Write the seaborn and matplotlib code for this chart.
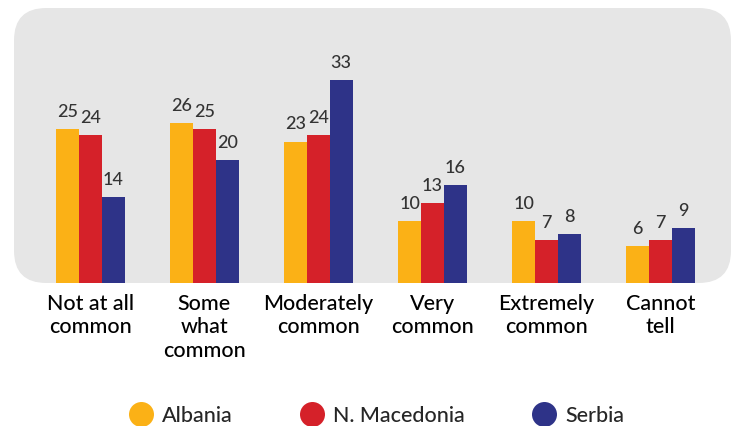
import matplotlib
matplotlib.use("Agg")
import matplotlib.pyplot as plt
import seaborn as sns
import pandas as pd
from matplotlib.patches import FancyBboxPatch
from matplotlib.lines import Line2D

categories = ["Not at all\ncommon", "Some\nwhat\ncommon", "Moderately\ncommon",
              "Very\ncommon", "Extremely\ncommon", "Cannot\ntell"]
countries = ["Albania", "N. Macedonia", "Serbia"]
albania = [25, 26, 23, 10, 10, 6]
macedonia = [24, 25, 24, 13, 7, 7]
serbia = [14, 20, 33, 16, 8, 9]
colors = ["#FBB116", "#D52129", "#2E3388"]

rows = []
for c, vals in zip(countries, [albania, macedonia, serbia]):
    for cat, v in zip(categories, vals):
        rows.append({"category": cat, "country": c, "value": v})
df = pd.DataFrame(rows)

sns.set_theme(style="white")
plt.rcParams["font.family"] = ["Lato", "DejaVu Sans"]
WEIGHT = "medium"

fig = plt.figure(figsize=(7.35, 4.26), dpi=100)
ax = fig.add_axes([14/735, (426-283)/426, 717/735, 275/426])
ax.set_facecolor("none")

bg = FancyBboxPatch((0, 0), 1, 1, boxstyle="round,pad=0,rounding_size=0.045",
                    transform=ax.transAxes, facecolor="#E6E6E6", edgecolor="none",
                    zorder=0, mutation_aspect=717/275)
ax.add_patch(bg)

sns.barplot(data=df, x="category", y="value", hue="country", hue_order=countries,
            palette=colors, width=0.6, saturation=1, ax=ax, legend=False, zorder=2,
            linewidth=0, edgecolor="none")

for cont in ax.containers:
    ax.bar_label(cont, fmt="%d", padding=6.5, fontsize=13, color="#333333",
                 fontweight=WEIGHT)

ax.set_xlim(-0.67, 5.62)
ax.set_ylim(0, 44.7)
ax.set_xlabel("")
ax.set_ylabel("")
ax.set_yticks([])
for s in ax.spines.values():
    s.set_visible(False)
ax.tick_params(axis="x", length=0, pad=8, labelsize=15.5, labelcolor="black")
for lab in ax.get_xticklabels():
    lab.set_verticalalignment("top")
    lab.set_linespacing(1.2)
    lab.set_fontweight(WEIGHT)

handles = [Line2D([0], [0], marker="o", linestyle="none", markersize=18,
                  markerfacecolor=c, markeredgecolor="none") for c in colors]
leg = fig.legend(handles, countries, loc="center", bbox_to_anchor=(0.512, 1 - 416/426),
                 ncol=3, frameon=False, fontsize=15.5, handletextpad=0.42,
                 columnspacing=3.1, handlelength=1.15, borderpad=0)
for t in leg.get_texts():
    t.set_fontweight(WEIGHT)

fig.savefig("out.png", dpi=100)
